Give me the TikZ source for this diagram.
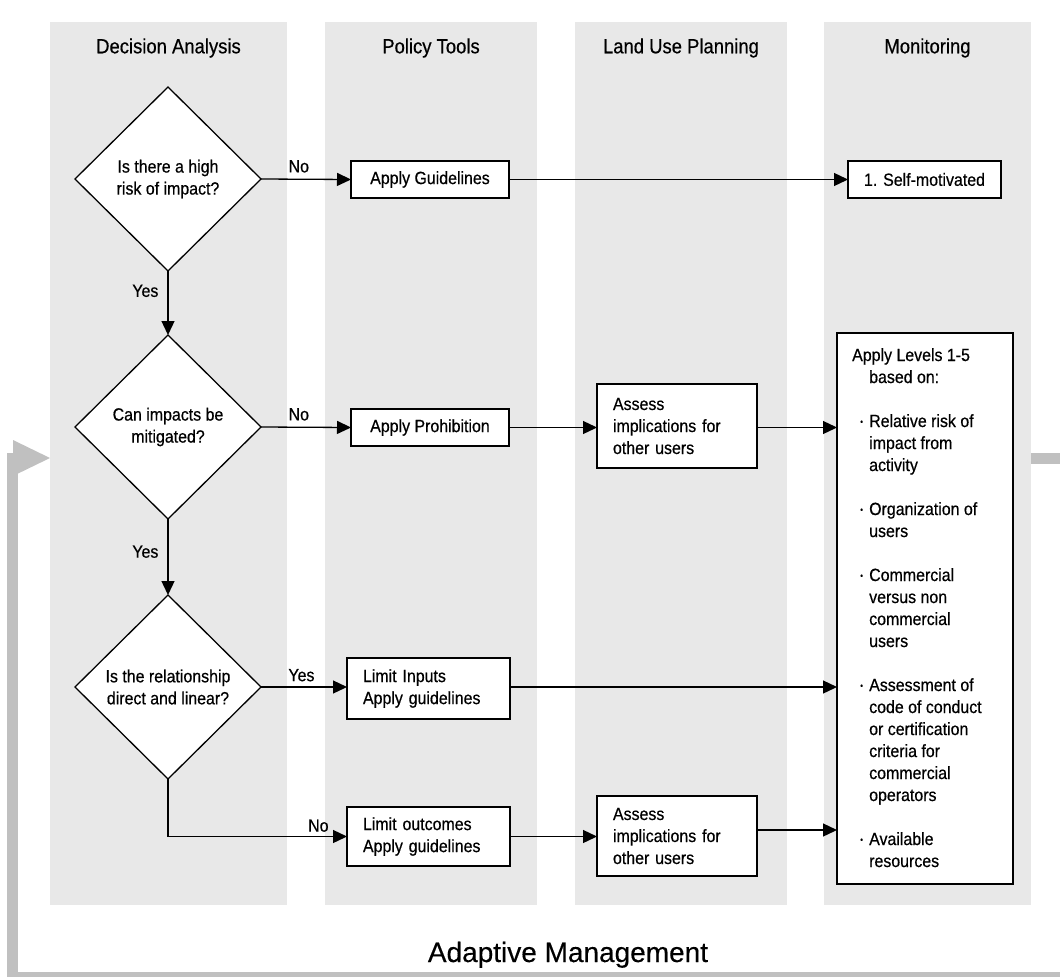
\documentclass[tikz,border=0pt]{standalone}
\usepackage{fontspec}
\setmainfont{Liberation Sans}[FakeStretch=0.9,FakeBold=0.5]
\newfontfamily\adfont{Liberation Sans}[FakeBold=0.3]
\usetikzlibrary{shapes.geometric,arrows.meta}
\definecolor{colbg}{RGB}{232,232,232}
\definecolor{loopgrey}{RGB}{192,192,192}
\newcommand\bodyfont{\fontsize{17.7}{22}\selectfont}
\newcommand\hdrfont{\fontsize{20.5}{24}\selectfont}
\newcommand\blt{\makebox[17pt][l]{\hspace{8pt}\raisebox{0.25ex}{\scalebox{0.5}{•}}}}
\newcommand\ind{\hspace*{17pt}}
\begin{document}
\begin{tikzpicture}[x=1pt,y=-1pt,
  column/.style={fill=colbg, draw=none, inner sep=0, outer sep=0, minimum height=883pt},
  hdr/.style={font=\hdrfont, inner sep=0},
  dec/.style={diamond, draw, fill=white, line width=1.3pt, minimum width=186pt, minimum height=184pt, inner sep=0, outer sep=0},
  dtext/.style={font=\bodyfont, align=center, inner sep=0},
  box/.style={draw, fill=white, line width=1.3pt, font=\bodyfont, inner sep=0, outer sep=0},
  lbox/.style={box, align=left, inner xsep=16pt, inner ysep=0},
  arr/.style={-{Triangle[length=14pt,width=13pt]}, line width=1.3pt},
  lbl/.style={font=\bodyfont, inner sep=0},
  loop/.style={draw=loopgrey, line width=11pt, line join=miter}
]
\useasboundingbox (0,0) rectangle (1060,977);
\clip (0,0) rectangle (1060,977);

% columns
\node[column, minimum width=237pt] (c1) at (168.5,463.5) {};
\node[column, minimum width=212pt] (c2) at (431,463.5) {};
\node[column, minimum width=212pt] (c3) at (681,463.5) {};
\node[column, minimum width=207pt] (c4) at (927.5,463.5) {};
\node[hdr] (h1) at (168.5,48) {Decision Analysis};
\node[hdr] (h2) at (431,48) {Policy Tools};
\node[hdr] (h3) at (681,48) {Land Use Planning};
\node[hdr] (h4) at (927.5,48) {Monitoring};

% adaptive management loop
\coordinate (lpA) at (1031,458);
\coordinate (lpB) at (1075,458);
\coordinate (lpC) at (1075,977.5);
\coordinate (lpD) at (12.5,977.5);
\coordinate (lpE) at (12.5,458);
\coordinate (lpF) at (16,458);
\draw[loop] (lpA) -- (lpB) -- (lpC) -- (lpD) -- (lpE) -- (lpF);
\coordinate (tipT) at (13,440);
\coordinate (tipP) at (50,458);
\coordinate (tipB) at (13,476);
\fill[loopgrey] (tipT) -- (tipP) -- (tipB) -- cycle;
\node[font=\adfont\fontsize{28}{32}\selectfont, inner sep=0, anchor=base] (am) at (568,962) {Adaptive Management};

% decisions
\node[dec] (d1) at (168,179) {};
\node[dtext] (d1t) at (d1) {Is there a high\\risk of impact?};
\node[dec] (d2) at (168,427) {};
\node[dtext] (d2t) at (d2) {Can impacts be\\mitigated?};
\node[dec] (d3) at (168,687) {};
\node[dtext] (d3t) at (d3) {Is the relationship\\direct and linear?};

% boxes
\node[box, minimum width=158pt, minimum height=37pt] (ag) at (430,179.5) {Apply Guidelines};
\node[box, minimum width=153pt, minimum height=37pt] (sm) at (924.5,179.5) {1. Self-motivated};
\node[box, minimum width=158pt, minimum height=37pt] (ap) at (430,427.5) {Apply Prohibition};
\node[lbox, text width=128pt, minimum height=84pt] (as1) at (677,426) {Assess\\implications for\\other users};
\node[lbox, text width=131pt, minimum height=61pt] (li) at (428.5,688.5) {Limit Inputs\\Apply guidelines};
\node[lbox, text width=131pt, minimum height=59pt] (lo) at (428.5,836.5) {Limit outcomes\\Apply guidelines};
\node[lbox, text width=128pt, minimum height=80pt] (as2) at (677,836) {Assess\\implications for\\other users};
\node[box, minimum width=176pt, minimum height=551pt] (mon) at (925,608.5) {};
\node[font=\bodyfont, align=left, inner sep=0, anchor=north west] (mont) at (852,348) {%
Apply Levels 1-5\\
\ind based on:\\[22pt]
\blt Relative risk of\\
\ind impact from\\
\ind activity\\[22pt]
\blt Organization of\\
\ind users\\[22pt]
\blt Commercial\\
\ind versus non\\
\ind commercial\\
\ind users\\[22pt]
\blt Assessment of\\
\ind code of conduct\\
\ind or certification\\
\ind criteria for\\
\ind commercial\\
\ind operators\\[22pt]
\blt Available\\
\ind resources};

% connectors
\coordinate (as2o) at ([yshift=6pt]as2.east);
\draw[arr] (d1.east) -- node[lbl, above=6pt, pos=0.42] {No} (ag.west);
\draw[arr] (ag.east) -- (sm.west);
\draw[arr] (d1.south) -- node[lbl, left=9pt, pos=0.31] {Yes} (d2.north);
\draw[arr] (d2.east) -- node[lbl, above=6pt, pos=0.42] {No} (ap.west);
\draw[arr] (ap.east) -- (as1.west |- ap.east);
\draw[arr] (as1.east |- ap.east) -- (mon.west |- ap.east);
\draw[arr] (d2.south) -- node[lbl, left=9pt, pos=0.43] {Yes} (d3.north);
\draw[arr] (d3.east) -- node[lbl, above=5pt, pos=0.47] {Yes} (li.west |- d3.east);
\draw[arr] (li.east |- d3.east) -- (mon.west |- d3.east);
\draw[arr] (d3.south) |- node[lbl, above=4pt, pos=0.92] {No} (lo.west);
\draw[arr] (lo.east) -- (as2.west |- lo.east);
\draw[arr] (as2o) -- (mon.west |- as2o);
\end{tikzpicture}
\end{document}
